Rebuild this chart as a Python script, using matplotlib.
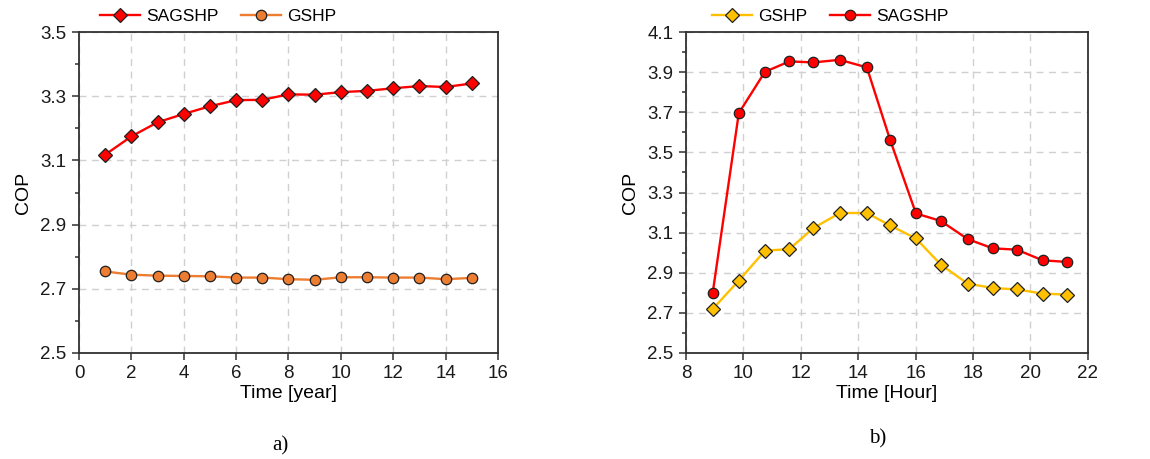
import matplotlib.pyplot as plt
from matplotlib.ticker import MultipleLocator

plt.rcParams['font.family'] = ['Liberation Sans', 'DejaVu Sans']

# yearly COP over 15 years of operation
years = [1, 2, 3, 4, 5, 6, 7, 8, 9, 10, 11, 12, 13, 14, 15]
cop_sagshp_year = [3.118, 3.175, 3.219, 3.245, 3.269, 3.288, 3.289, 3.306,
                   3.305, 3.313, 3.317, 3.325, 3.332, 3.329, 3.340]
cop_gshp_year = [2.754, 2.744, 2.741, 2.740, 2.739, 2.735, 2.735, 2.730,
                 2.728, 2.736, 2.736, 2.735, 2.735, 2.730, 2.734]

# hourly COP over a typical day
hours = [8.93, 9.84, 10.75, 11.60, 12.44, 13.36, 14.30, 15.11, 16.01,
         16.88, 17.81, 18.68, 19.53, 20.42, 21.27]
cop_gshp_hour = [2.719, 2.861, 3.010, 3.018, 3.123, 3.198, 3.198, 3.136,
                 3.071, 2.940, 2.846, 2.824, 2.817, 2.796, 2.791]
cop_sagshp_hour = [2.799, 3.696, 3.902, 3.954, 3.949, 3.962, 3.924, 3.563,
                   3.196, 3.158, 3.068, 3.022, 3.015, 2.962, 2.954]

RED = '#FF0000'
ORANGE = '#ED7D31'
GOLD = '#FFC000'
SPINE = '#303030'


def style_axes(ax):
    for s in ax.spines.values():
        s.set_color(SPINE)
        s.set_linewidth(1.3)
    ax.xaxis.set_major_locator(MultipleLocator(2))
    # majors at 2.5, 2.7, ... with minors in between
    ax.yaxis.set_major_locator(MultipleLocator(0.2, offset=0.1))
    ax.yaxis.set_minor_locator(MultipleLocator(0.1))
    ax.grid(True, which='major', linestyle=(0, (5, 4)), color='#d0d0d0', linewidth=1)
    ax.set_axisbelow(True)
    ax.tick_params(which='major', direction='out', length=5, width=1.1,
                   color=SPINE, labelsize=13.5, labelcolor='#1a1a1a', pad=4)
    ax.tick_params(axis='y', which='minor', direction='out', length=3, width=1.1, color=SPINE)
    ax.yaxis.set_major_formatter('{x:.1f}')
    ax.set_ylabel('COP', fontsize=14, labelpad=6)


fig = plt.figure(figsize=(11.5, 4.59), dpi=100)
ax1 = fig.add_axes([0.0687, 0.231, 0.3643, 0.699])
ax2 = fig.add_axes([0.5965, 0.231, 0.3495, 0.699])

mk = dict(markeredgecolor='#202020', markeredgewidth=0.9, linewidth=1.7)
leg = dict(loc='center left', ncol=2, frameon=False, fontsize=12.5, handlelength=2.3,
           handletextpad=0.35, columnspacing=1.3, borderaxespad=0, borderpad=0)

ax1.plot(years, cop_sagshp_year, color=RED, marker='D', markersize=7,
         markerfacecolor=RED, label='SAGSHP', **mk)
ax1.plot(years, cop_gshp_year, color=ORANGE, marker='o', markersize=7.5,
         markerfacecolor=ORANGE, label='GSHP', **mk)
ax1.set_xlim(0, 16)
ax1.set_ylim(2.5, 3.5)
ax1.set_xlabel('Time [year]', fontsize=14, labelpad=2)
style_axes(ax1)
ax1.legend(bbox_to_anchor=(0.05, 1.05), **leg)

ax2.plot(hours, cop_gshp_hour, color=GOLD, marker='D', markersize=7,
         markerfacecolor=GOLD, label='GSHP', **mk)
ax2.plot(hours, cop_sagshp_hour, color=RED, marker='o', markersize=7.5,
         markerfacecolor=RED, label='SAGSHP', **mk)
ax2.set_xlim(8, 22)
ax2.set_ylim(2.5, 4.1)
ax2.set_xlabel('Time [Hour]', fontsize=14, labelpad=2)
style_axes(ax2)
ax2.legend(bbox_to_anchor=(0.065, 1.05), **leg)

fig.text(0.244, 0.028, 'a)', fontsize=15, family=['Liberation Serif'], ha='center', va='center')
fig.text(0.763, 0.043, 'b)', fontsize=15, family=['Liberation Serif'], ha='center', va='center')

fig.savefig('out.png', dpi=100)
